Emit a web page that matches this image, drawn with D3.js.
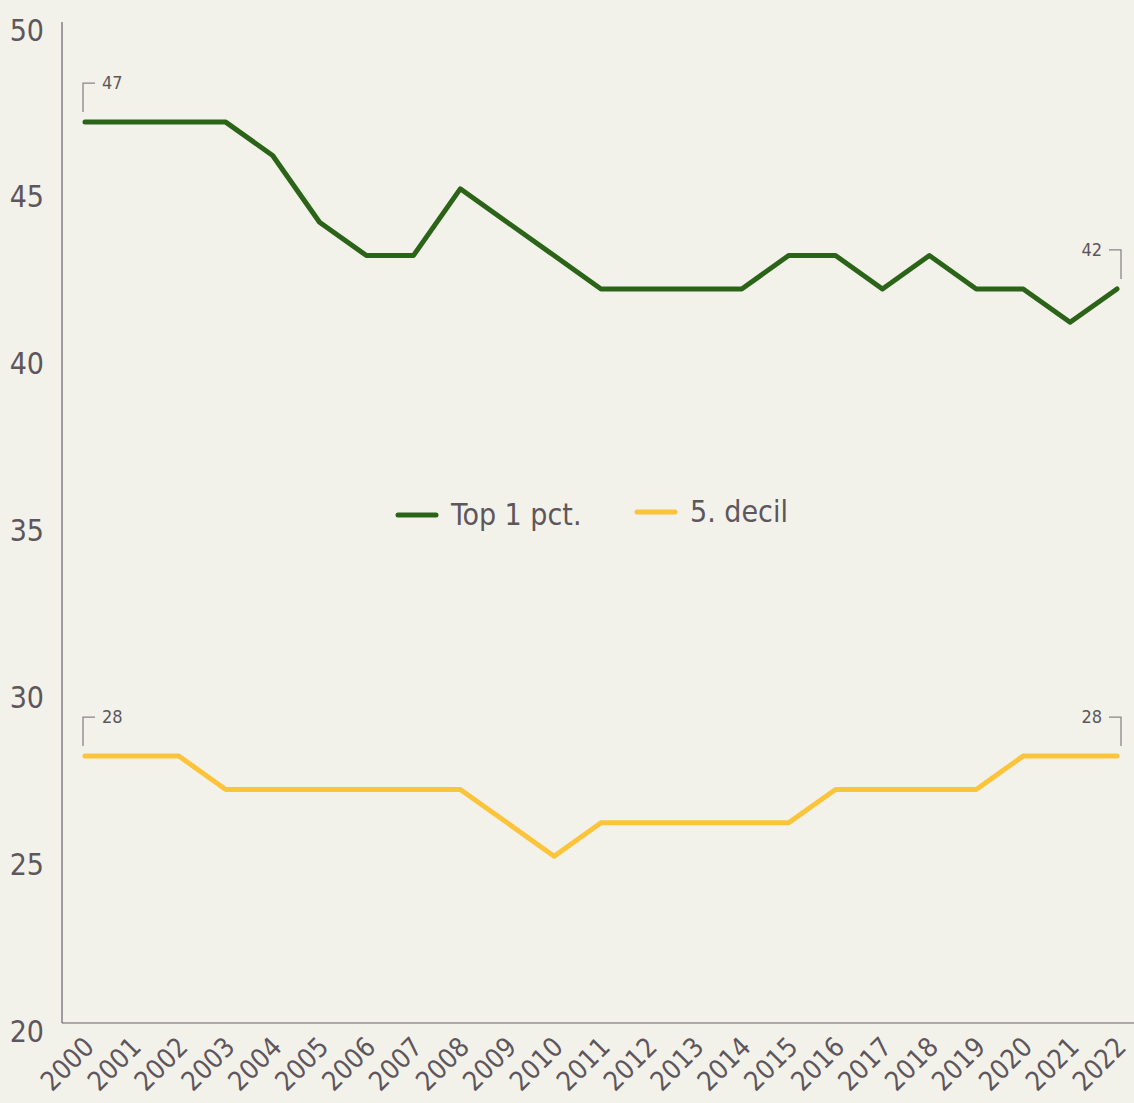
<!DOCTYPE html>
<html>
<head>
<meta charset="utf-8">
<script src="https://cdn.jsdelivr.net/npm/d3@7"></script>
<style>
  body { margin: 0; background: #f3f2ea; }
  text { font-family: "DejaVu Sans Condensed", "Liberation Sans Narrow", sans-serif; fill: #5e565d; }
</style>
</head>
<body>
<div id="chart"></div>
<script>
var width = 1134;
var height = 1103;

var years = ["2000","2001","2002","2003","2004","2005","2006","2007","2008","2009","2010",
             "2011","2012","2013","2014","2015","2016","2017","2018","2019","2020","2021","2022"];
var top1 = [47,47,47,47,46,44,43,43,45,44,43,42,42,42,42,43,43,42,43,42,42,41,42];
var decil5 = [28,28,28,27,27,27,27,27,27,26,25,26,26,26,26,26,27,27,27,27,28,28,28];
var yTicks = [20, 25, 30, 35, 40, 45, 50];
var seriesNames = ["Top 1 pct.", "5. decil"];
var seriesColors = ["#2b6418", "#fbc43a"];

var axisColor = "#6b6168";

var svg = d3.select("#chart").append("svg")
    .attr("width", width)
    .attr("height", height);

svg.append("rect").attr("width", width).attr("height", height).attr("fill", "#f3f2ea");

var x = d3.scalePoint()
    .domain(years)
    .range([85, 1117]);

var y = d3.scaleLinear()
    .domain([20, 50])
    .range([1023, 22]);

// axes lines
svg.append("line")
    .attr("x1", 62).attr("x2", 62)
    .attr("y1", y(50)).attr("y2", y(20))
    .attr("stroke", axisColor).attr("stroke-width", 1.2);
svg.append("line")
    .attr("x1", 62).attr("x2", width)
    .attr("y1", y(20)).attr("y2", y(20))
    .attr("stroke", axisColor).attr("stroke-width", 1.2);

// y tick labels
svg.selectAll("text.ytick")
    .data(yTicks)
    .enter().append("text")
    .attr("class", "ytick")
    .attr("x", 44)
    .attr("y", function(d) { return y(d) + 8; })
    .attr("dy", "0.35em")
    .attr("text-anchor", "end")
    .style("font-size", "30px")
    .text(function(d) { return d; });

// x tick labels, rotated
svg.selectAll("text.xtick")
    .data(years)
    .enter().append("text")
    .attr("class", "xtick")
    .attr("transform", function(d) { return "translate(" + (x(d) + 4) + "," + 1042 + ") rotate(-45)"; })
    .attr("text-anchor", "end")
    .attr("dy", "0.35em")
    .style("font-size", "27px")
    .text(function(d) { return d; });

var line = d3.line()
    .x(function(d, i) { return x(years[i]); })
    .y(function(d) { return y(d); });

[top1, decil5].forEach(function(values, k) {
    svg.append("path")
        .datum(values)
        .attr("d", line)
        .attr("fill", "none")
        .attr("stroke", seriesColors[k])
        .attr("stroke-width", 5)
        .attr("stroke-linejoin", "round")
        .attr("stroke-linecap", "round");
});

// start / end annotations
function annotate(yearIdx, value, side) {
    var px = x(years[yearIdx]);
    var py = y(value);
    var g = svg.append("g").attr("class", "annotation");
    var bx = side === "left" ? px - 2 : px + 4;
    var top = py - 39;
    var hx = side === "left" ? bx + 12 : bx - 12;
    g.append("path")
        .attr("d", "M" + bx + "," + (py - 10) + "V" + top + "H" + hx)
        .attr("fill", "none")
        .attr("stroke", "#8a8589")
        .attr("stroke-width", 1.3);
    g.append("text")
        .attr("x", side === "left" ? bx + 19 : bx - 19)
        .attr("y", top)
        .attr("dy", "0.35em")
        .attr("text-anchor", side === "left" ? "start" : "end")
        .style("font-size", "18px")
        .text(value);
}
annotate(0, top1[0], "left");
annotate(years.length - 1, top1[top1.length - 1], "right");
annotate(0, decil5[0], "left");
annotate(years.length - 1, decil5[decil5.length - 1], "right");

// legend
var legendX = [398, 637];
var legendY = [515, 512];
seriesNames.forEach(function(name, k) {
    svg.append("line")
        .attr("x1", legendX[k]).attr("x2", legendX[k] + 38)
        .attr("y1", legendY[k]).attr("y2", legendY[k])
        .attr("stroke", seriesColors[k])
        .attr("stroke-width", 5)
        .attr("stroke-linecap", "round");
    svg.append("text")
        .attr("x", legendX[k] + 53)
        .attr("y", legendY[k] - 1)
        .attr("dy", "0.35em")
        .style("font-size", "30px")
        .text(name);
});
</script>
</body>
</html>
